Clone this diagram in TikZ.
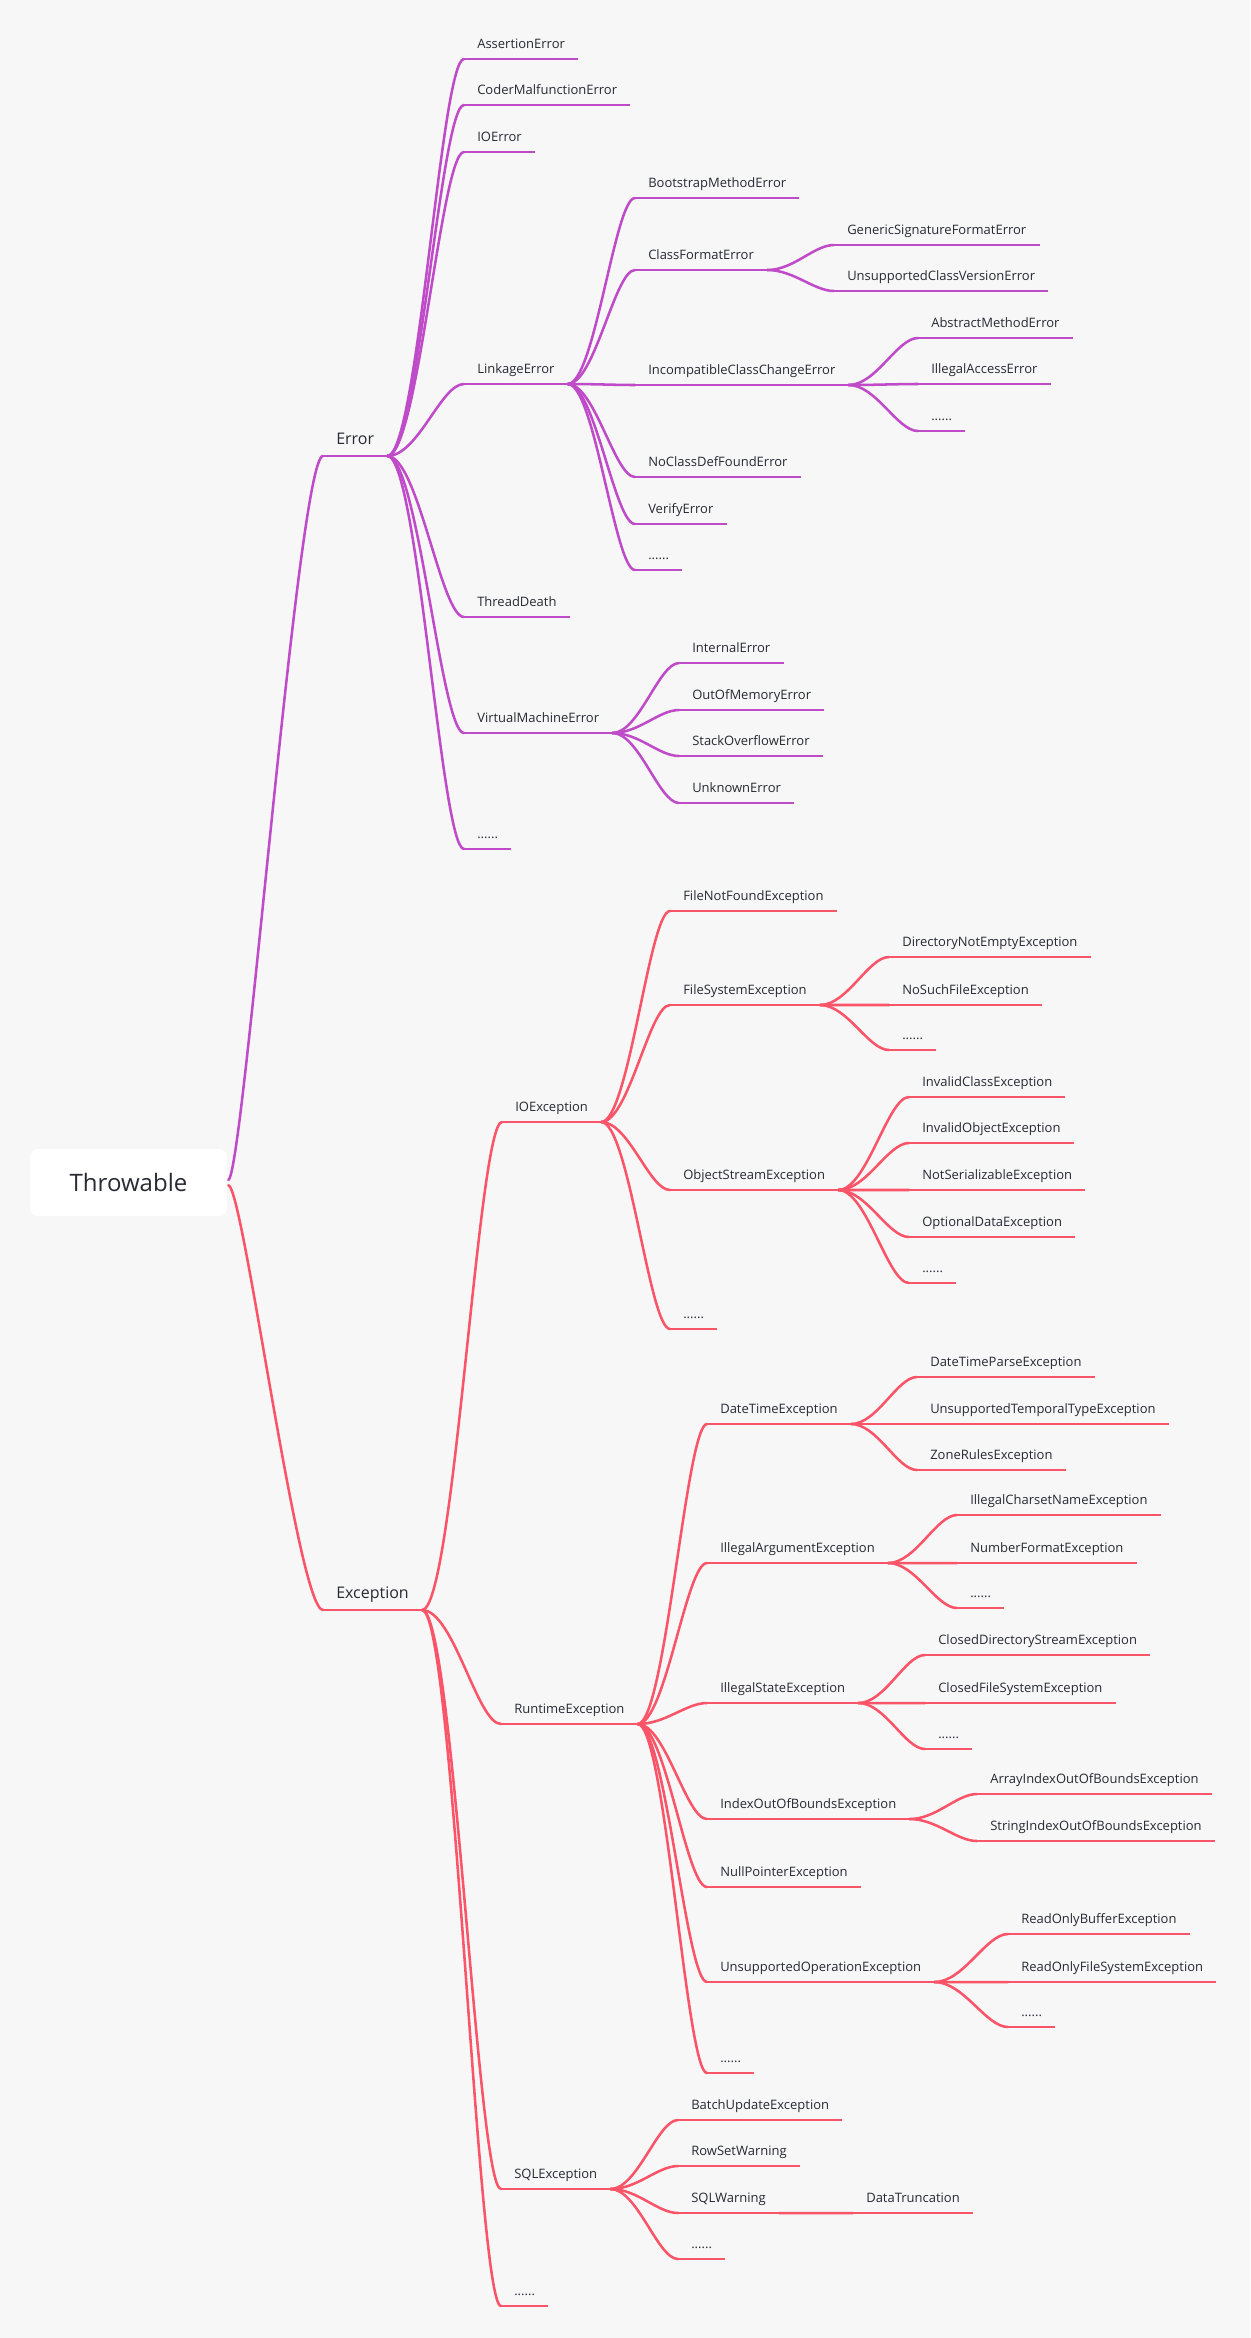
\documentclass[tikz,border=0pt]{standalone}
\usepackage{fontspec}
\setmainfont{Open Sans}
\usetikzlibrary{calc}

\definecolor{bgcol}{RGB}{247,247,247}
\definecolor{txtcol}{RGB}{40,42,52}
\definecolor{errcol}{RGB}{191,75,200}
\definecolor{exccol}{RGB}{250,84,104}

\begin{document}
\begin{tikzpicture}[
    x = 0.75pt,
    y = -0.75pt,
    line width = 1.9pt,
    line cap = round,
    topic/.style = {
      anchor = south west,
      inner xsep = 9pt,
      inner ysep = 4.7pt,
      text height = 7pt,
      text depth = 2.3pt,
      text = txtcol,
      font = \fontsize{9.75pt}{12pt}\selectfont,
      append after command = {(\tikzlastnode.south west) edge[draw = #1, line width = 2.1pt, line cap = butt] (\tikzlastnode.south east)}
    },
    errtopic/.style = {topic = errcol},
    exctopic/.style = {topic = exccol},
    maintopic/.style = {
      topic = #1,
      inner ysep = 4.6pt,
      text height = 8.6pt,
      text depth = 2.9pt,
      font = \fontsize{12pt}{14pt}\selectfont
    },
    root/.style = {
      fill = white,
      rounded corners = 6pt,
      minimum width = 147.75pt,
      minimum height = 50.25pt,
      text = txtcol,
      font = \fontsize{18pt}{22pt}\selectfont
    },
    twig/.style = {
      to path = {.. controls ($(\tikztostart)!0.4!(\tikztostart -| \tikztotarget)$)
        and ($(\tikztotarget)!0.3!(\tikztotarget -| \tikztostart)$) .. (\tikztotarget)}
    },
    trunk/.style = {
      to path = {.. controls ($(\tikztostart)+(15,0)$)
        and ($(\tikztotarget)+(-25,0)$) .. (\tikztotarget)}
    },
    errline/.style = {draw = errcol, twig},
    excline/.style = {draw = exccol, twig}
  ]
  \fill[bgcol] (0,0) rectangle (1250,2338);
  \useasboundingbox (0,0) rectangle (1250,2338);

  \node[root] (throwable) at (128.5,1182.5) {Throwable};
  \coordinate (toperr) at ([yshift=2pt]throwable.east);
  \coordinate (topexc) at ([yshift=-2pt]throwable.east);

  \node[maintopic=errcol] (error) at (323,456) {Error};
  \node[errtopic] (assertion) at (464,59) {AssertionError};
  \node[errtopic] (coder) at (464,105) {CoderMalfunctionError};
  \node[errtopic] (ioerror) at (464,152) {IOError};
  \node[errtopic] (linkage) at (464,384) {LinkageError};
  \node[errtopic] (threaddeath) at (464,617) {ThreadDeath};
  \node[errtopic] (vmerror) at (464,733) {VirtualMachineError};
  \node[errtopic] (errmore) at (464,849) {......};
  \node[errtopic] (bootstrap) at (635,198) {BootstrapMethodError};
  \node[errtopic] (classformat) at (635,270) {ClassFormatError};
  \node[errtopic] (incompat) at (635,385) {IncompatibleClassChangeError};
  \node[errtopic] (noclassdef) at (635,477) {NoClassDefFoundError};
  \node[errtopic] (verify) at (635,524) {VerifyError};
  \node[errtopic] (linkmore) at (635,570) {......};
  \node[errtopic] (genericsig) at (834,245) {GenericSignatureFormatError};
  \node[errtopic] (unsupclass) at (834,291) {UnsupportedClassVersionError};
  \node[errtopic] (abstractm) at (918,338) {AbstractMethodError};
  \node[errtopic] (illaccess) at (918,384) {IllegalAccessError};
  \node[errtopic] (incmore) at (918,431) {......};
  \node[errtopic] (internal) at (679,663) {InternalError};
  \node[errtopic] (outofmem) at (679,710) {OutOfMemoryError};
  \node[errtopic] (stackover) at (679,756) {StackOverflowError};
  \node[errtopic] (unknown) at (679,803) {UnknownError};

  \node[maintopic=exccol] (exception) at (323,1610) {Exception};
  \node[exctopic] (ioexc) at (502,1122) {IOException};
  \node[exctopic] (runtime) at (501,1724) {RuntimeException};
  \node[exctopic] (sqlexc) at (501,2189) {SQLException};
  \node[exctopic] (excmore) at (501,2306) {......};
  \node[exctopic] (filenotfound) at (670,911) {FileNotFoundException};
  \node[exctopic] (filesystem) at (670,1005) {FileSystemException};
  \node[exctopic] (objstream) at (670,1190) {ObjectStreamException};
  \node[exctopic] (iomore) at (670,1329) {......};
  \node[exctopic] (dirnotempty) at (889,957) {DirectoryNotEmptyException};
  \node[exctopic] (nosuchfile) at (889,1005) {NoSuchFileException};
  \node[exctopic] (fsmore) at (889,1050) {......};
  \node[exctopic] (invclass) at (909,1097) {InvalidClassException};
  \node[exctopic] (invobject) at (909,1143) {InvalidObjectException};
  \node[exctopic] (notserial) at (909,1190) {NotSerializableException};
  \node[exctopic] (optdata) at (909,1237) {OptionalDataException};
  \node[exctopic] (osmore) at (909,1283) {......};
  \node[exctopic] (datetime) at (707,1424) {DateTimeException};
  \node[exctopic] (illarg) at (707,1563) {IllegalArgumentException};
  \node[exctopic] (illstate) at (707,1703) {IllegalStateException};
  \node[exctopic] (indexoob) at (707,1819) {IndexOutOfBoundsException};
  \node[exctopic] (nullptr) at (707,1887) {NullPointerException};
  \node[exctopic] (unsupop) at (707,1982) {UnsupportedOperationException};
  \node[exctopic] (rtmore) at (707,2073) {......};
  \node[exctopic] (dtparse) at (917,1377) {DateTimeParseException};
  \node[exctopic] (unsuptemp) at (917,1424) {UnsupportedTemporalTypeException};
  \node[exctopic] (zonerules) at (917,1470) {ZoneRulesException};
  \node[exctopic] (illcharset) at (957,1515) {IllegalCharsetNameException};
  \node[exctopic] (numformat) at (957,1563) {NumberFormatException};
  \node[exctopic] (iamore) at (957,1608) {......};
  \node[exctopic] (closeddir) at (925,1655) {ClosedDirectoryStreamException};
  \node[exctopic] (closedfs) at (925,1703) {ClosedFileSystemException};
  \node[exctopic] (ismore) at (925,1749) {......};
  \node[exctopic] (arrayoob) at (977,1794) {ArrayIndexOutOfBoundsException};
  \node[exctopic] (stringoob) at (977,1841) {StringIndexOutOfBoundsException};
  \node[exctopic] (robuffer) at (1008,1934) {ReadOnlyBufferException};
  \node[exctopic] (rofilesys) at (1008,1982) {ReadOnlyFileSystemException};
  \node[exctopic] (uomore) at (1008,2027) {......};
  \node[exctopic] (batchupd) at (678,2120) {BatchUpdateException};
  \node[exctopic] (rowset) at (678,2166) {RowSetWarning};
  \node[exctopic] (sqlwarn) at (678,2213) {SQLWarning};
  \node[exctopic] (sqlmore) at (678,2259) {......};
  \node[exctopic] (datatrunc) at (853,2213) {DataTruncation};

  \draw[errcol, trunk] (toperr) to (error.south west);
  \draw[exccol, trunk] (topexc) to (exception.south west);

  \draw[errline] (error.south east) to (assertion.south west);
  \draw[errline] (error.south east) to (coder.south west);
  \draw[errline] (error.south east) to (ioerror.south west);
  \draw[errline] (error.south east) to (linkage.south west);
  \draw[errline] (error.south east) to (threaddeath.south west);
  \draw[errline] (error.south east) to (vmerror.south west);
  \draw[errline] (error.south east) to (errmore.south west);
  \draw[errline] (linkage.south east) to (bootstrap.south west);
  \draw[errline] (linkage.south east) to (classformat.south west);
  \draw[errline] (linkage.south east) to (incompat.south west);
  \draw[errline] (linkage.south east) to (noclassdef.south west);
  \draw[errline] (linkage.south east) to (verify.south west);
  \draw[errline] (linkage.south east) to (linkmore.south west);
  \draw[errline] (classformat.south east) to (genericsig.south west);
  \draw[errline] (classformat.south east) to (unsupclass.south west);
  \draw[errline] (incompat.south east) to (abstractm.south west);
  \draw[errline] (incompat.south east) to (illaccess.south west);
  \draw[errline] (incompat.south east) to (incmore.south west);
  \draw[errline] (vmerror.south east) to (internal.south west);
  \draw[errline] (vmerror.south east) to (outofmem.south west);
  \draw[errline] (vmerror.south east) to (stackover.south west);
  \draw[errline] (vmerror.south east) to (unknown.south west);

  \draw[excline] (exception.south east) to (ioexc.south west);
  \draw[excline] (exception.south east) to (runtime.south west);
  \draw[excline] (exception.south east) to (sqlexc.south west);
  \draw[excline] (exception.south east) to (excmore.south west);
  \draw[excline] (ioexc.south east) to (filenotfound.south west);
  \draw[excline] (ioexc.south east) to (filesystem.south west);
  \draw[excline] (ioexc.south east) to (objstream.south west);
  \draw[excline] (ioexc.south east) to (iomore.south west);
  \draw[excline] (filesystem.south east) to (dirnotempty.south west);
  \draw[excline] (filesystem.south east) to (nosuchfile.south west);
  \draw[excline] (filesystem.south east) to (fsmore.south west);
  \draw[excline] (objstream.south east) to (invclass.south west);
  \draw[excline] (objstream.south east) to (invobject.south west);
  \draw[excline] (objstream.south east) to (notserial.south west);
  \draw[excline] (objstream.south east) to (optdata.south west);
  \draw[excline] (objstream.south east) to (osmore.south west);
  \draw[excline] (runtime.south east) to (datetime.south west);
  \draw[excline] (runtime.south east) to (illarg.south west);
  \draw[excline] (runtime.south east) to (illstate.south west);
  \draw[excline] (runtime.south east) to (indexoob.south west);
  \draw[excline] (runtime.south east) to (nullptr.south west);
  \draw[excline] (runtime.south east) to (unsupop.south west);
  \draw[excline] (runtime.south east) to (rtmore.south west);
  \draw[excline] (datetime.south east) to (dtparse.south west);
  \draw[excline] (datetime.south east) to (unsuptemp.south west);
  \draw[excline] (datetime.south east) to (zonerules.south west);
  \draw[excline] (illarg.south east) to (illcharset.south west);
  \draw[excline] (illarg.south east) to (numformat.south west);
  \draw[excline] (illarg.south east) to (iamore.south west);
  \draw[excline] (illstate.south east) to (closeddir.south west);
  \draw[excline] (illstate.south east) to (closedfs.south west);
  \draw[excline] (illstate.south east) to (ismore.south west);
  \draw[excline] (indexoob.south east) to (arrayoob.south west);
  \draw[excline] (indexoob.south east) to (stringoob.south west);
  \draw[excline] (unsupop.south east) to (robuffer.south west);
  \draw[excline] (unsupop.south east) to (rofilesys.south west);
  \draw[excline] (unsupop.south east) to (uomore.south west);
  \draw[excline] (sqlexc.south east) to (batchupd.south west);
  \draw[excline] (sqlexc.south east) to (rowset.south west);
  \draw[excline] (sqlexc.south east) to (sqlwarn.south west);
  \draw[excline] (sqlexc.south east) to (sqlmore.south west);
  \draw[excline] (sqlwarn.south east) to (datatrunc.south west);
\end{tikzpicture}
\end{document}
